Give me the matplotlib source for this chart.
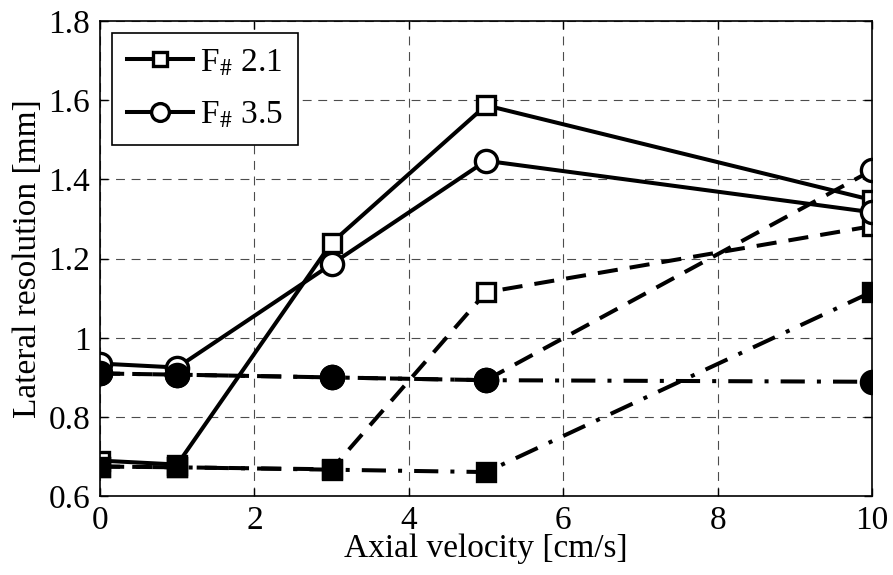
import numpy as np
import matplotlib.pyplot as plt

plt.rcParams['font.family'] = 'Liberation Serif'
plt.rcParams['mathtext.fontset'] = 'stix'

# axial velocity [cm/s]
velocity = [0, 1, 3, 5, 10]

# lateral resolution [mm]
f21_solid = [0.69, 0.68, 1.24, 1.587, 1.348]
f35_solid = [0.935, 0.925, 1.186, 1.447, 1.317]
f21_dashed = [0.675, 0.673, 0.668, 1.115, 1.282]
f35_dashed = [0.91, 0.907, 0.9, 0.893, 1.423]
f21_dashdot = [0.675, 0.673, 0.667, 0.661, 1.116]
f35_dashdot = [0.91, 0.907, 0.9, 0.893, 0.889]

legend_labels = [r'F$_{\#}$ 2.1', r'F$_{\#}$ 3.5']

fig = plt.figure(figsize=(8.93, 5.75), dpi=100)
ax = fig.add_axes([0.112, 0.137, 0.8645, 0.8265])

lw = 2.9
sq = dict(marker='s', markersize=13, markeredgewidth=2.4, color='black')
ci = dict(marker='o', markersize=16, markeredgewidth=2.4, color='black')
dash = (0, (5, 3))
dashdot = (0, (6, 3, 1, 3))

# dashed, open markers
ax.plot(velocity, f21_dashed, linestyle=dash, linewidth=lw, markerfacecolor='white', **sq)
ax.plot(velocity, f35_dashed, linestyle=dash, linewidth=lw, markerfacecolor='white', **ci)
# solid, open markers
l1, = ax.plot(velocity, f21_solid, linestyle='-', linewidth=lw, markerfacecolor='white', **sq)
l2, = ax.plot(velocity, f35_solid, linestyle='-', linewidth=lw, markerfacecolor='white', **ci)
# dash-dot, filled markers
ax.plot(velocity, f21_dashdot, linestyle=dashdot, linewidth=lw, markerfacecolor='black', **sq)
ax.plot(velocity, f35_dashdot, linestyle=dashdot, linewidth=lw, markerfacecolor='black', **ci)

ax.set_xlim(0, 10)
ax.set_ylim(0.6, 1.8)
ax.set_xticks([0, 2, 4, 6, 8, 10])
ax.set_yticks([0.6, 0.8, 1.0, 1.2, 1.4, 1.6, 1.8])
ax.set_yticklabels(['0.6', '0.8', '1', '1.2', '1.4', '1.6', '1.8'])
ax.tick_params(direction='in', labelsize=24, length=6, width=1, top=True, right=True, pad=7)
ax.grid(True, color='black', linestyle=(0, (8, 6)), linewidth=0.8, alpha=0.7)
for s in ax.spines.values():
    s.set_linewidth(1.2)

ax.set_xlabel('Axial velocity [cm/s]', fontsize=24, labelpad=-2)
ax.set_ylabel('Lateral resolution [mm]', fontsize=24, labelpad=4)

leg = ax.legend([l1, l2], legend_labels, loc='upper left', fontsize=24, fancybox=False,
                framealpha=1, edgecolor='black', handlelength=2.0, handletextpad=0.2,
                borderpad=0.45, labelspacing=0.65, borderaxespad=0.35, markerscale=0.8)
leg.get_frame().set_linewidth(1.2)

fig.savefig('out.png', dpi=100)
